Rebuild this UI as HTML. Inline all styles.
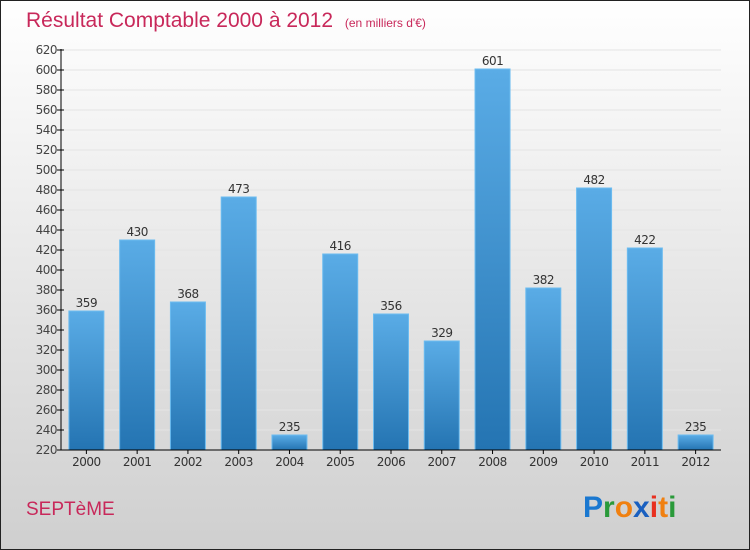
<!DOCTYPE html>
<html><head><meta charset="utf-8"><style>
body{margin:0;}
#c{width:750px;height:550px;position:relative;overflow:hidden;font-family:"DejaVu Sans","Liberation Sans",sans-serif;}
</style></head><body>
<div id="c">
<svg id="s" width="750" height="550" xmlns="http://www.w3.org/2000/svg">
<defs>
<linearGradient id="bg" x1="0" y1="0" x2="0" y2="1"><stop offset="0" stop-color="#ffffff"/><stop offset="1" stop-color="#cfcfcf"/></linearGradient>
<linearGradient id="bar" x1="0" y1="0" x2="0" y2="1"><stop offset="0" stop-color="#5aace6"/><stop offset="1" stop-color="#2474b2"/></linearGradient>
</defs>
<rect x="0.5" y="0.5" width="749" height="549" fill="url(#bg)" stroke="#222"/>
<text x="26" y="27" font-size="21" fill="#c8285a" font-family="Liberation Sans, sans-serif">Résultat Comptable 2000 à 2012 <tspan font-size="12" dx="6">(en milliers d'€)</tspan></text>
<text x="26" y="515" font-size="19" fill="#c8285a" font-family="Liberation Sans, sans-serif">SEPTèME</text>
<g font-family="Liberation Sans, sans-serif" font-size="30" font-weight="bold">
<text x="583" y="517"><tspan fill="#1a78d0">P</tspan><tspan fill="#2a9a3a">r</tspan><tspan fill="#f08010">o</tspan><tspan fill="#1a60c0">x</tspan><tspan fill="#e83020">i</tspan><tspan fill="#f08010">t</tspan><tspan fill="#2a9a3a">i</tspan></text>
</g>
<g id="plot"></g>
</svg>
</div>
<script>
const categories=["2000","2001","2002","2003","2004","2005","2006","2007","2008","2009","2010","2011","2012"];
const values=[359,430,368,473,235,416,356,329,601,382,482,422,235];
const yTicks=[220,240,260,280,300,320,340,360,380,400,420,440,460,480,500,520,540,560,580,600,620];
const X0=61,X1=721,Y0=450,Y1=50,YMIN=220,YMAX=620;
const band=(X1-X0)/categories.length;
function y(v){return Y0-(v-YMIN)/(YMAX-YMIN)*(Y0-Y1);}
function x(i){return X0+band*(i+0.5);}
const ns="http://www.w3.org/2000/svg",g=document.getElementById('plot');
function el(t,a,txt){const e=document.createElementNS(ns,t);for(const k in a)e.setAttribute(k,a[k]);if(txt!=null)e.textContent=txt;g.appendChild(e);return e;}
yTicks.forEach(v=>{
 const l=el('line',{x1:X0,x2:X1,y1:y(v),y2:y(v),stroke:'#e4e4e4','stroke-width':1});
 
 
 const t=el('line',{x1:X0-4,x2:X0+3,y1:y(v),y2:y(v),stroke:'#000'});
 
 
 const lb=el('text',{x:X0-4,y:y(v)+4,'font-size':12,'text-anchor':'end',fill:'#444','letter-spacing':'-0.5'},v);
 
 
});
categories.forEach((c,i)=>{
 const bw=35,cx=x(i);
 const r=el('rect',{x:cx-bw/2,y:y(values[i]),width:bw,height:Y0-y(values[i]),fill:'url(#bar)',stroke:'#6cbcf0','stroke-width':1});
 
 
 const vl=el('text',{x:cx,y:y(values[i])-4,'font-size':12,'text-anchor':'middle',fill:'#333','letter-spacing':'-0.5'},values[i]);
 
 
 const tk=el('line',{x1:cx,x2:cx,y1:Y0,y2:Y0+4,stroke:'#000'});
 
 
 const xl=el('text',{x:cx,y:Y0+16,'font-size':12,'text-anchor':'middle',fill:'#333','letter-spacing':'-0.5'},c);
 
 
});
const ax=el('line',{x1:X0,x2:X0,y1:Y1-1,y2:Y0,stroke:'#000'});


const bx=el('line',{x1:X0,x2:X1,y1:Y0,y2:Y0,stroke:'#000'});


</script>
</body></html>
